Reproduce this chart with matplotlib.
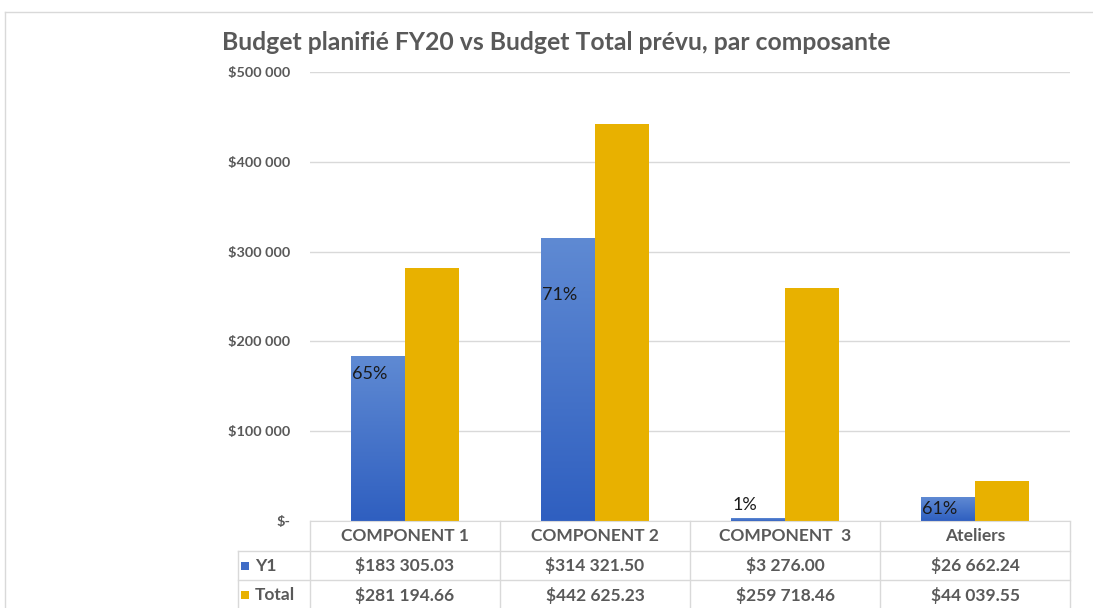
import matplotlib
matplotlib.use('Agg')
import matplotlib.pyplot as plt
import numpy as np
from matplotlib.colors import LinearSegmentedColormap
from matplotlib.lines import Line2D
from matplotlib.patches import Rectangle
from matplotlib.transforms import blended_transform_factory

# ---------------- data ----------------
categories = ['COMPONENT 1', 'COMPONENT 2', 'COMPONENT  3', 'Ateliers']
series_names = ['Y1', 'Total']
y1_values = [183305.03, 314321.50, 3276.00, 26662.24]
total_values = [281194.66, 442625.23, 259718.46, 44039.55]
yticks = [0, 100000, 200000, 300000, 400000, 500000]
title = 'Budget planifié FY20 vs Budget Total prévu, par composante'

# ---------------- style ----------------
W, H = 1093, 608
GRAY_TXT = '#595959'
GRID = '#D9D9D9'
BLUE_TOP, BLUE_BOT = '#5F8AD3', '#2F5FC0'
BLUE_KEY = '#3F6CC6'
GOLD = '#E8B100'
label_offsets_px = [18, 56, -13, 12]   # label centre below bar top (px)

plt.rcParams['font.family'] = ['Lato', 'DejaVu Sans']
fig = plt.figure(figsize=(W / 100, H / 100), dpi=100)


def fx(px):
    return px / W


def fy(py):
    return 1 - py / H


# chart-area border
fig.add_artist(Line2D([fx(5), fx(W)], [fy(12), fy(12)], color=GRID, lw=1))
fig.add_artist(Line2D([fx(5), fx(5)], [fy(12), fy(H)], color=GRID, lw=1))

ax = fig.add_axes([fx(310), fy(521), 760 / W, 449 / H])
x = np.arange(len(categories))
bw = 54 / 190
bars_y1 = ax.bar(x - bw / 2, y1_values, bw, color=BLUE_KEY, zorder=2)
bars_tot = ax.bar(x + bw / 2, total_values, bw, color=GOLD, zorder=2)

# gradient on blue bars
cmap = LinearSegmentedColormap.from_list('bl', [BLUE_BOT, BLUE_TOP])
grad = np.linspace(0, 1, 256).reshape(-1, 1)
for b in bars_y1:
    x0, y0, w, h = b.get_x(), b.get_y(), b.get_width(), b.get_height()
    ax.imshow(grad, extent=[x0, x0 + w, y0, y0 + h], origin='lower',
              cmap=cmap, aspect='auto', zorder=2.5, interpolation='bilinear')

ax.set_xlim(-0.5, len(categories) - 0.5)
ax.set_ylim(0, 500000)

# percentage labels
for b, v1, vt, off in zip(bars_y1, y1_values, total_values, label_offsets_px):
    pct = f'{v1 / vt * 100:.0f}%'
    ax.annotate(pct, (b.get_x(), b.get_height()),
                xytext=(1, -off * 0.72), textcoords='offset points',
                ha='left', va='center', fontsize=13, color='#1a1a1a',
                zorder=4)

# axes styling
ax.set_yticks(yticks)
ax.set_yticklabels(['$-' if v == 0 else '$' + f'{v:,.0f}'.replace(',', ' ')
                    for v in yticks])
ax.tick_params(axis='y', length=0, pad=14, labelsize=10.4, labelcolor=GRAY_TXT)
for t in ax.get_yticklabels():
    t.set_fontweight('bold')
ax.set_xticks([])
ax.yaxis.grid(True, color=GRID, lw=1, zorder=0)
ax.set_axisbelow(True)
for s in ['top', 'right', 'left']:
    ax.spines[s].set_visible(False)
ax.spines['bottom'].set_color(GRID)

# title
fig.text(fx(556), fy(43), title, ha='center', va='center', fontsize=17.8,
         fontweight='bold', color=GRAY_TXT)

# ---------------- data table ----------------
tr = blended_transform_factory(ax.transData, fig.transFigure)
rows_px = [521, 551, 580, 609]
bounds = np.arange(len(categories) + 1) - 0.5
for bx in bounds:
    fig.add_artist(Line2D([bx, bx], [fy(rows_px[0]), fy(rows_px[-1])],
                          color=GRID, lw=1, transform=tr))
for ry in rows_px[1:3]:
    fig.add_artist(Line2D([fx(238), fx(1070)], [fy(ry), fy(ry)],
                          color=GRID, lw=1))
fig.add_artist(Line2D([fx(238), fx(238)], [fy(rows_px[1]), fy(rows_px[-1])],
                      color=GRID, lw=1))

tfs = 12.5
for i, c in enumerate(categories):
    fig.text(x[i], fy(536), c, transform=tr, ha='center', va='center',
             fontsize=tfs, color=GRAY_TXT, fontweight='bold')

row_y = [566, 595]
series_vals = [y1_values, total_values]
key_colors = [BLUE_KEY, GOLD]
for r, (name, vals, kc) in enumerate(zip(series_names, series_vals, key_colors)):
    for i, v in enumerate(vals):
        s = '$' + f'{v:,.2f}'.replace(',', ' ')
        fig.text(x[i], fy(row_y[r]), s, transform=tr, ha='center',
                 va='center', fontsize=tfs, color=GRAY_TXT,
                 fontweight='bold')
    fig.add_artist(Rectangle((fx(241), fy(row_y[r] + 4)), 8 / W, 8 / H,
                             color=kc, lw=0))
    fig.text(fx(255), fy(row_y[r]), name, ha='left', va='center',
             fontsize=tfs, color=GRAY_TXT, fontweight='bold')

fig.savefig('out.png', dpi=100)
